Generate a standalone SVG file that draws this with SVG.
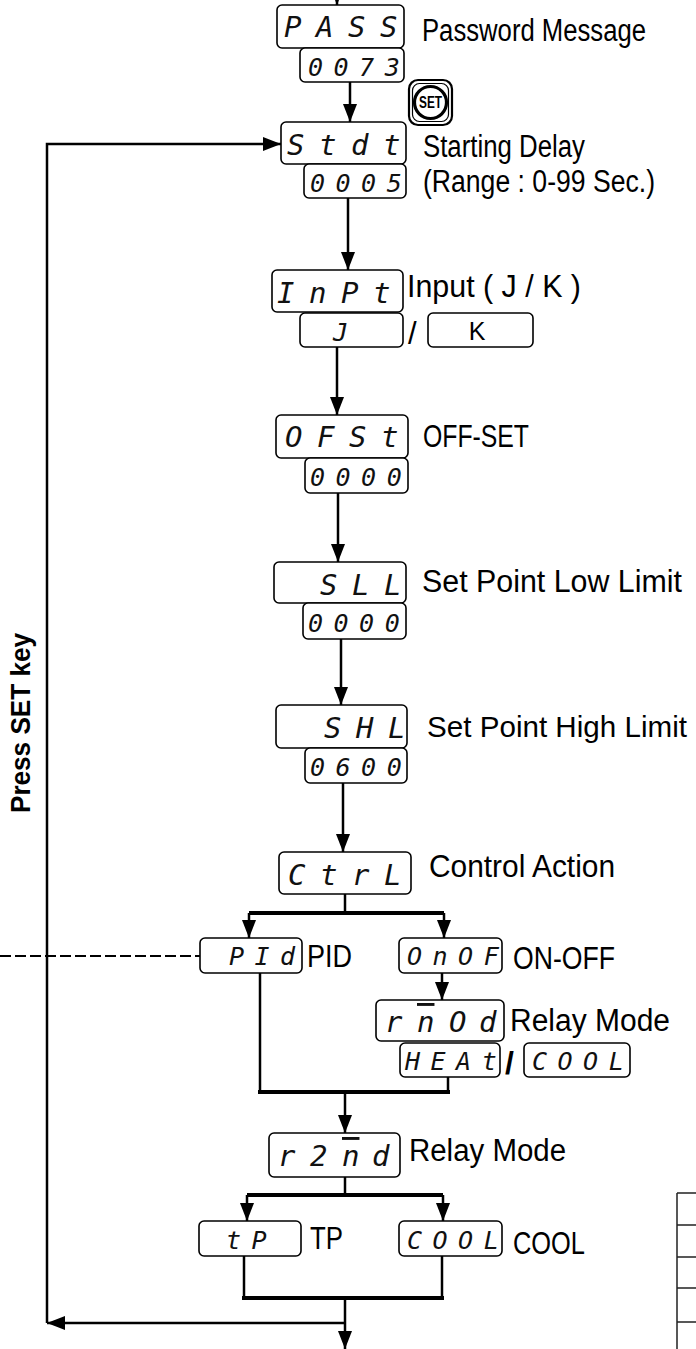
<svg xmlns="http://www.w3.org/2000/svg" width="696" height="1349" viewBox="0 0 696 1349">
<defs>
<marker id="ah" markerUnits="userSpaceOnUse" markerWidth="18" markerHeight="14" viewBox="0 0 18 14" refX="18" refY="7" orient="auto">
<path d="M0,0 L18,7 L0,14 z" fill="#000"/>
</marker>
<style>
.box{fill:#fff;stroke:#000;stroke-width:1.6}
.segL{font-family:"DejaVu Sans Mono",monospace;font-style:oblique;font-size:29px;letter-spacing:14.5px;fill:#111}
.segS{font-family:"DejaVu Sans Mono",monospace;font-style:oblique;font-size:25px;letter-spacing:10.5px;fill:#111}
.segX{font-family:"DejaVu Sans Mono",monospace;font-style:oblique;font-size:29px;fill:#111}
.lbl{font-family:"Liberation Sans",Arial,sans-serif;font-size:31px;fill:#000}
.ln{stroke:#000;stroke-width:2.5;fill:none}
.thk{stroke:#000;stroke-width:4;fill:none}
.tbl{stroke:#222;stroke-width:1.5;fill:none}
</style>
</defs>
<rect width="696" height="1349" fill="#fff"/>

<g id="connectors">
<path class="ln" d="M337,-20 V5" marker-end="url(#ah)"/>
<path class="ln" d="M350,82 V122" marker-end="url(#ah)"/>
<path class="ln" d="M345,1323 H47" marker-end="url(#ah)"/>
<path class="ln" d="M47,1323 V144 H281" marker-end="url(#ah)"/>
<path class="ln" d="M348,198 V270" marker-end="url(#ah)"/>
<path class="ln" d="M337,347 V415" marker-end="url(#ah)"/>
<path class="ln" d="M338,493 V562" marker-end="url(#ah)"/>
<path class="ln" d="M341,639 V705" marker-end="url(#ah)"/>
<path class="ln" d="M343,783 V852" marker-end="url(#ah)"/>
<path class="ln" d="M345,894 V913"/>
<path class="thk" d="M249,913 H444"/>
<path class="ln" d="M249,913 V938" marker-end="url(#ah)"/>
<path class="ln" d="M444,913 V938" marker-end="url(#ah)"/>
<path class="ln" d="M442,973 V1000" marker-end="url(#ah)"/>
<path class="ln" d="M260,973 V1092"/>
<path class="ln" d="M448,1077 V1092"/>
<path class="thk" d="M258,1092 H450"/>
<path class="ln" d="M345,1092 V1133" marker-end="url(#ah)"/>
<path class="ln" d="M345,1177 V1195"/>
<path class="thk" d="M247,1195 H443"/>
<path class="ln" d="M247,1195 V1221" marker-end="url(#ah)"/>
<path class="ln" d="M443,1195 V1221" marker-end="url(#ah)"/>
<path class="ln" d="M244,1256 V1298"/>
<path class="ln" d="M442,1256 V1298"/>
<path class="thk" d="M242,1298 H444"/>
<path class="ln" d="M345,1298 V1349" marker-end="url(#ah)"/>
<path d="M0,956 H200" stroke="#000" stroke-width="2" stroke-dasharray="11 4" fill="none"/>
</g>

<g id="press-set-key">
<text transform="translate(30,723) rotate(-90)" text-anchor="middle" font-family="Liberation Sans, Arial, sans-serif" font-weight="bold" font-size="27" textLength="180" lengthAdjust="spacingAndGlyphs">Press SET key</text>
</g>

<g id="node-pass">
<rect class="box" x="277" y="5" width="127" height="43" rx="5"/>
<rect class="box" x="300" y="48" width="104" height="34" rx="5"/>
<text class="segL" x="284" y="37">PASS</text>
<text class="segS" x="308" y="76">0073</text>
<text class="lbl" x="422" y="41" textLength="224" lengthAdjust="spacingAndGlyphs">Password Message</text>
</g>

<g id="set-key">
<rect x="409" y="80" width="43" height="45" rx="9" fill="#fff" stroke="#000" stroke-width="2.2"/>
<rect x="412.5" y="83.5" width="36" height="38" rx="7" fill="none" stroke="#000" stroke-width="1.2"/>
<circle cx="430.5" cy="102.5" r="16" fill="#fff" stroke="#000" stroke-width="3.2"/>
<text x="430.5" y="108" text-anchor="middle" font-family="Liberation Sans, Arial, sans-serif" font-weight="bold" font-size="16" textLength="23" lengthAdjust="spacingAndGlyphs">SET</text>
</g>

<g id="node-stdt">
<rect class="box" x="281" y="122" width="125" height="42" rx="5"/>
<rect class="box" x="304" y="164" width="102" height="34" rx="5"/>
<text class="segL" x="287" y="155">Stdt</text>
<text class="segS" x="310" y="192">0005</text>
<text class="lbl" x="423" y="157" textLength="162" lengthAdjust="spacingAndGlyphs">Starting Delay</text>
<text class="lbl" x="423" y="192" textLength="232" lengthAdjust="spacingAndGlyphs">(Range : 0-99 Sec.)</text>
</g>

<g id="node-inpt">
<rect class="box" x="272" y="270" width="131" height="42" rx="5"/>
<text class="segL" x="277" y="303">InPt</text>
<text class="lbl" x="407" y="297" textLength="174" lengthAdjust="spacingAndGlyphs">Input ( J / K )</text>
<rect class="box" x="300" y="313" width="103" height="34" rx="5"/>
<text class="segS" x="333" y="341">J</text>
<text class="lbl" x="408" y="344">/</text>
<rect class="box" x="428" y="313" width="105" height="34" rx="5"/>
<text x="477" y="340" text-anchor="middle" font-family="Liberation Sans, Arial, sans-serif" font-size="25">K</text>
</g>

<g id="node-ofst">
<rect class="box" x="276" y="415" width="132" height="43" rx="5"/>
<rect class="box" x="305" y="458" width="103" height="35" rx="5"/>
<text class="segL" x="285" y="447">OFSt</text>
<text class="segS" x="310" y="486">0000</text>
<text class="lbl" x="423" y="447" textLength="106" lengthAdjust="spacingAndGlyphs">OFF-SET</text>
</g>

<g id="node-sll">
<rect class="box" x="274" y="562" width="132" height="41" rx="5"/>
<rect class="box" x="303" y="603" width="103" height="36" rx="5"/>
<text class="segL" x="320" y="595">SLL</text>
<text class="segS" x="308" y="632">0000</text>
<text class="lbl" x="422" y="592" textLength="260" lengthAdjust="spacingAndGlyphs">Set Point Low Limit</text>
</g>

<g id="node-shl">
<rect class="box" x="276" y="705" width="131" height="43" rx="5"/>
<rect class="box" x="305" y="748" width="102" height="35" rx="5"/>
<text class="segL" x="324" y="738">SHL</text>
<text class="segS" x="310" y="776">0600</text>
<text class="lbl" x="427" y="737" style="font-size:29px" textLength="260" lengthAdjust="spacingAndGlyphs">Set Point High Limit</text>
</g>

<g id="node-ctrl">
<rect class="box" x="279" y="852" width="132" height="42" rx="5"/>
<text class="segL" x="288" y="885">CtrL</text>
<text class="lbl" x="429" y="877" textLength="186" lengthAdjust="spacingAndGlyphs">Control Action</text>
</g>

<g id="node-pid">
<rect class="box" x="200" y="938" width="102" height="35" rx="5"/>
<text class="segS" x="229" y="965">PId</text>
<text class="lbl" x="307" y="967" textLength="45" lengthAdjust="spacingAndGlyphs">PID</text>
</g>

<g id="node-onof">
<rect class="box" x="399" y="938" width="103" height="35" rx="5"/>
<text class="segS" x="407" y="965">OnOF</text>
<text class="lbl" x="513" y="969" textLength="102" lengthAdjust="spacingAndGlyphs">ON-OFF</text>
</g>

<g id="node-rmod">
<rect class="box" x="376" y="1000" width="128" height="41" rx="5"/>
<text class="segX" x="385 417 449 479" y="1032">r<tspan text-decoration="overline">n</tspan>Od</text>
<text class="lbl" x="510" y="1031" textLength="160" lengthAdjust="spacingAndGlyphs">Relay Mode</text>
<rect class="box" x="400" y="1043" width="100" height="34" rx="5"/>
<text class="segS" x="405" y="1070" letter-spacing="10">HEAt</text>
<text x="505" y="1074" font-family="Liberation Sans, Arial, sans-serif" font-weight="bold" font-size="32">/</text>
<rect class="box" x="524" y="1043" width="106" height="34" rx="5"/>
<text class="segS" x="532" y="1070">COOL</text>
</g>

<g id="node-r2md">
<rect class="box" x="269" y="1133" width="131" height="44" rx="5"/>
<text class="segX" x="278 310 342 372" y="1166">r2<tspan text-decoration="overline">n</tspan>d</text>
<text class="lbl" x="409" y="1161" textLength="157" lengthAdjust="spacingAndGlyphs">Relay Mode</text>
</g>

<g id="node-tp">
<rect class="box" x="199" y="1221" width="102" height="35" rx="5"/>
<text class="segS" x="226" y="1249">tP</text>
<text class="lbl" x="310" y="1249" textLength="33" lengthAdjust="spacingAndGlyphs">TP</text>
</g>

<g id="node-cool">
<rect class="box" x="399" y="1221" width="103" height="35" rx="5"/>
<text class="segS" x="407" y="1249">COOL</text>
<text class="lbl" x="513" y="1254" textLength="72" lengthAdjust="spacingAndGlyphs">COOL</text>
</g>

<g id="table-edge">
<path class="tbl" d="M677,1193 V1349 M677,1193 H696 M677,1225 H696 M677,1257 H696 M677,1288 H696 M677,1322 H696"/>
</g>
</svg>
